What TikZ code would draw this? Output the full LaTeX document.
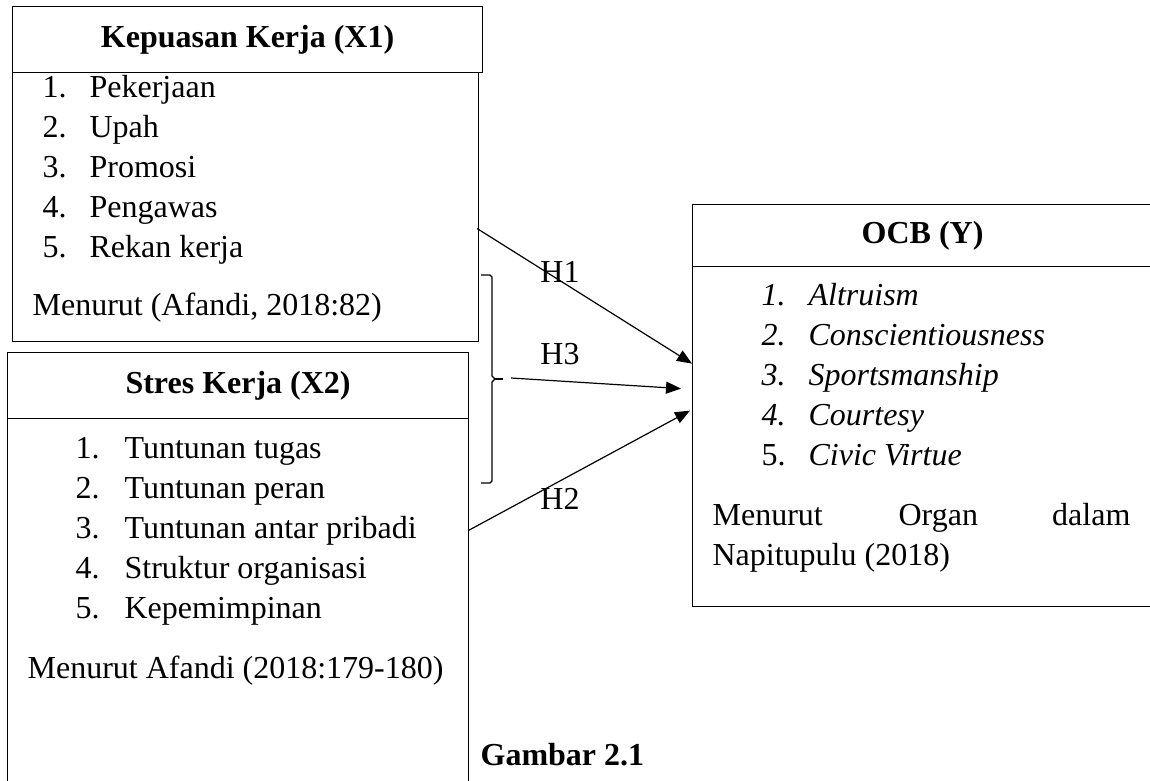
\documentclass[tikz,border=0pt]{standalone}
\usepackage{fontspec}
\setmainfont{Liberation Serif}
\usetikzlibrary{arrows.meta}

\begin{document}
\begin{tikzpicture}[x=1pt, y=-1pt, line width=1.2pt,
  every node/.style={font=\fontsize{32}{38}\selectfont},
  hdr/.style={draw, inner sep=0pt, anchor=north west, font=\fontsize{32}{38}\selectfont\bfseries},
  bodybox/.style={draw, inner sep=0pt, anchor=north west},
  item/.style={anchor=base west, inner sep=0pt},
  conn/.style={-{Triangle[length=15pt,width=12pt]}}]
  \clip (0,0) rectangle (1150,780);
  % Kepuasan Kerja (X1)
  \node[hdr, minimum width=470pt, minimum height=66pt] (x1h) at (12,6) {Kepuasan Kerja (X1)};
  \node[bodybox, minimum width=466pt, minimum height=269pt] (x1b) at (12,72) {};
  \node[item] (x1i1) at (42,97) {\makebox[47pt][l]{1.}Pekerjaan};
  \node[item] (x1i2) at (42,137) {\makebox[47pt][l]{2.}Upah};
  \node[item] (x1i3) at (42,177) {\makebox[47pt][l]{3.}Promosi};
  \node[item] (x1i4) at (42,217) {\makebox[47pt][l]{4.}Pengawas};
  \node[item] (x1i5) at (42,257) {\makebox[47pt][l]{5.}Rekan kerja};
  \node[item] (x1src) at (32,315) {Menurut (Afandi, 2018:82)};
  % Stres Kerja (X2)
  \node[hdr, minimum width=461pt, minimum height=66pt] (x2h) at (7,352) {Stres Kerja (X2)};
  \node[bodybox, minimum width=461pt, minimum height=400pt] (x2b) at (7,418) {};
  \node[item] (x2i1) at (75,458) {\makebox[49pt][l]{1.}Tuntunan tugas};
  \node[item] (x2i2) at (75,498) {\makebox[49pt][l]{2.}Tuntunan peran};
  \node[item] (x2i3) at (75,538) {\makebox[49pt][l]{3.}Tuntunan antar pribadi};
  \node[item] (x2i4) at (75,578) {\makebox[49pt][l]{4.}Struktur organisasi};
  \node[item] (x2i5) at (75,618) {\makebox[49pt][l]{5.}Kepemimpinan};
  \node[item] (x2src) at (27,678) {Menurut Afandi (2018:179-180)};
  % OCB (Y)
  \node[hdr, minimum width=460pt, minimum height=62pt] (yh) at (692,204) {OCB (Y)};
  \node[bodybox, minimum width=460pt, minimum height=340pt] (yb) at (692,266) {};
  \node[item] (yi1) at (761,305) {\itshape\makebox[47pt][l]{1.}Altruism};
  \node[item] (yi2) at (761,345) {\itshape\makebox[47pt][l]{2.}Conscientiousness};
  \node[item] (yi3) at (761,385) {\itshape\makebox[47pt][l]{3.}Sportsmanship};
  \node[item] (yi4) at (761,425) {\itshape\makebox[47pt][l]{4.}Courtesy};
  \node[item] (yi5) at (761,465) {\makebox[47pt][l]{5.}\textit{Civic Virtue}};
  \node[item] (ysrc1) at (712,525) {Menurut};
  \node[item] (ysrc2) at (898,525) {Organ};
  \node[item, anchor=base east] (ysrc3) at (1131,525) {dalam};
  \node[item] (ysrc4) at (712,565) {Napitupulu (2018)};
  % ends of the paths
  \coordinate (h1a) at ([shift={(-2pt,-21.5pt)}]x1b.east);
  \coordinate (h1b) at ([shift={(0pt,73pt)}]yb.west);
  \coordinate (h2a) at ([shift={(-1pt,88pt)}]x2b.east);
  \coordinate (h2b) at ([shift={(-2pt,26pt)}]yb.west);
  \coordinate (h3b) at ([shift={(-11pt,48pt)}]yb.west);
  \coordinate (brtip) at (495,379);
  \coordinate (h3a) at (511,378);
  % bracket for X1 and X2 together
  \draw (481,275) -- (490,275) -- (492,277) -- (492,376) -- (brtip) -- (492,382) -- (492,481) -- (490,483) -- (481,483);
  \draw (brtip) -- ++(8,0);
  \draw[conn] (h1a) -- (h1b);
  \draw[conn] (h2a) -- (h2b);
  \draw[conn] (h3a) -- (h3b);
  \node[anchor=base, inner sep=0pt] (lh1) at (560,282) {H1};
  \node[anchor=base, inner sep=0pt] (lh3) at (560,364) {H3};
  \node[anchor=base, inner sep=0pt] (lh2) at (560,509) {H2};
  \node[item, font=\fontsize{32}{38}\selectfont\bfseries] (cap) at (480,765) {Gambar 2.1};
\end{tikzpicture}
\end{document}
